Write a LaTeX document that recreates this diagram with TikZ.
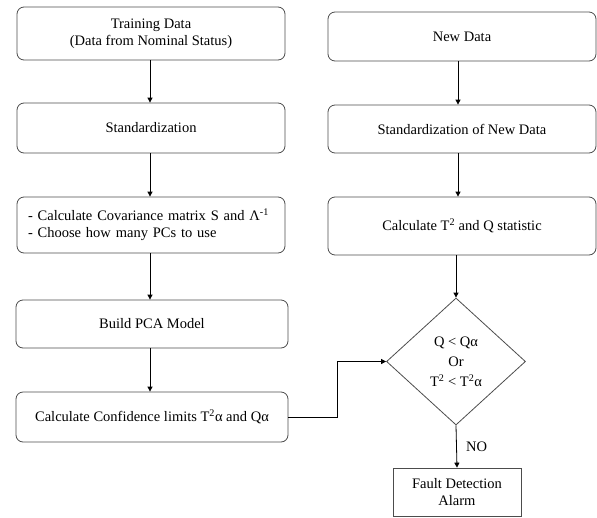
\documentclass[tikz,border=0pt]{standalone}
\usepackage{fontspec}
\setmainfont{Liberation Serif}
\usetikzlibrary{arrows.meta,shapes.geometric}
\begin{document}
\begin{tikzpicture}[x=1pt,y=-1pt,
  txt/.style={font=\fontsize{14.5}{17}\selectfont},
  rbox/.style={draw=black!70,line width=0.8pt,rounded corners=7pt,inner sep=0pt,txt,align=center},
  pbox/.style={draw=black!70,line width=0.8pt,inner sep=0pt,txt,align=center},
  arr/.style={-{Triangle[length=5pt,width=5pt]},line width=0.8pt}]
\useasboundingbox (0,0) rectangle (597,517);
% left column
\node[rbox,minimum width=268pt,minimum height=53pt] (l1) at (151,33.5) {Training Data\\(Data from Nominal Status)};
\node[rbox,minimum width=268pt,minimum height=50pt] (l2) at (151,128) {Standardization};
\node[rbox,minimum height=56pt,text width=246pt,inner xsep=11pt,align=left] (l3) at (151,225) {- Calculate Covariance matrix S and Λ\textsuperscript{-1}\\- Choose how many PCs to use};
\node[rbox,minimum width=272pt,minimum height=48pt] (l4) at (152,324) {Build PCA Model};
\node[rbox,minimum width=272pt,minimum height=50pt] (l5) at (152,417) {Calculate Confidence limits T\textsuperscript{2}α and Qα};
% right column
\node[rbox,minimum width=268pt,minimum height=49pt] (r1) at (462,36.5) {New Data};
\node[rbox,minimum width=268pt,minimum height=48pt] (r2) at (462,129) {Standardization of New Data};
\node[rbox,minimum width=268pt,minimum height=58pt] (r3) at (462,226) {Calculate T\textsuperscript{2} and Q statistic};
\node[diamond,draw=black!70,line width=0.8pt,minimum width=139pt,minimum height=127pt,inner sep=0pt,font=\fontsize{14.5}{20}\selectfont,align=center] (d) at (456,361.5) {Q < Qα\\Or\\T\textsuperscript{2} < T\textsuperscript{2}α};
\node[pbox,minimum width=128pt,minimum height=48pt] (f) at (457,492) {Fault Detection\\Alarm};
% connectors
\draw[arr] (l1.south -| 150,0) -- (l2.north -| 150,0);
\draw[arr] (l2.south -| 150,0) -- (l3.north -| 150,0);
\draw[arr] (l3.south -| 150,0) -- (l4.north -| 150,0);
\draw[arr] (l4.south -| 150,0) -- (l5.north -| 150,0);
\draw[arr] (r1.south -| 458,0) -- (r2.north -| 458,0);
\draw[arr] (r2.south -| 458,0) -- (r3.north -| 458,0);
\draw[arr] (r3.south -| 456,0) -- (d.north);
\draw[arr] (l5.east) -- ++(49,0) |- (d.west);
\draw[arr] (d.south) -- node[right=6pt,txt]{NO} (f.north);
\end{tikzpicture}
\end{document}
